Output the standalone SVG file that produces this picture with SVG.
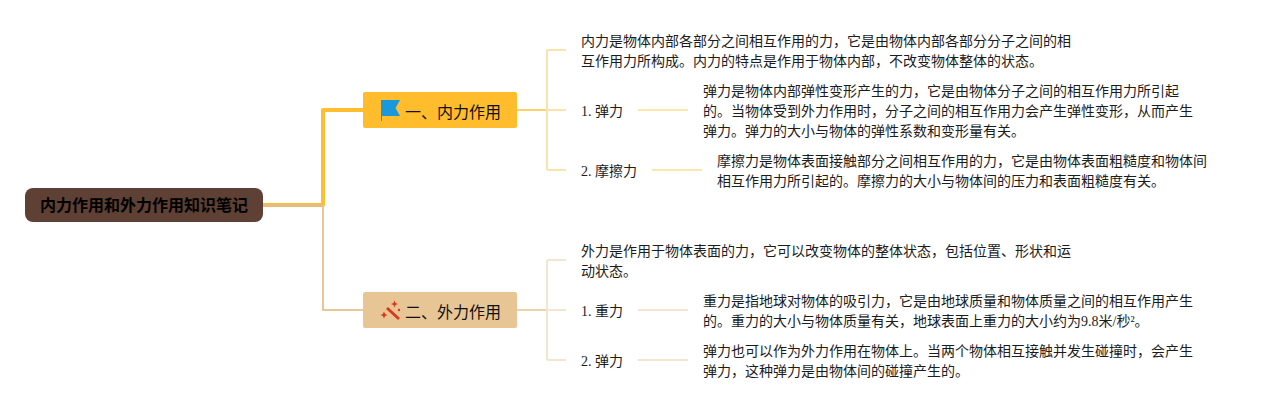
<svg xmlns="http://www.w3.org/2000/svg" width="1277" height="410" viewBox="0 0 1277 410">
<style>
text{font-family:"Liberation Serif","Noto Sans CJK SC",serif;font-size:14px;fill:#1c1c1c}
.b{font-size:16px;fill:#111}
.c{fill:none;stroke-linejoin:round}
.w{fill:#d5371f}
</style>
<rect width="1277" height="410" fill="#fff"/>
<g id="connectors">
<path class="c" d="M263 205H323V110H363" stroke="#ffbe30" stroke-width="4"/>
<path class="c" d="M263 205.500H323V310H363" stroke="#e8c795" stroke-width="2"/>
<path class="c" d="M263 205.500H323" stroke="#e6bd78" stroke-width="3"/>
<path class="c" d="M517 110H547" stroke="#fdd26b" stroke-width="2"/>
<path class="c" d="M547 50V170M547 50H566M547 110H566M547 170H566" stroke="#fbe3ad" stroke-width="2"/>
<path class="c" d="M638 110H688M652 170H702" stroke="#fde6ac" stroke-width="2"/>
<path class="c" d="M517 310H547" stroke="#ecd3ae" stroke-width="2"/>
<path class="c" d="M547 260V360M547 260H566M547 310H566M547 360H566" stroke="#f3e5d0" stroke-width="2"/>
<path class="c" d="M638 310H688M638 360H688" stroke="#f3e5d0" stroke-width="2"/>
</g>
<g id="root"><rect x="25" y="188" width="238" height="34" rx="8" fill="#5f4034"/>
<text x="40" y="211" style="font-size:16px;font-weight:bold;fill:#000">内力作用和外力作用知识笔记</text></g>
<g id="branch1"><rect x="363" y="92" width="154" height="36" rx="2" fill="#ffbd2e"/>
<path d="M381 100H400L395.500 108L400 116H382V121H381Z" fill="#1a98dc"/>
<text class="b" x="405" y="118">一、内力作用</text></g>
<g id="branch2"><rect x="363" y="292" width="154" height="36" rx="2" fill="#e8c595"/>
<path d="M387 308L399 319" stroke="#d5371f" stroke-width="2.800" fill="none"/>
<path class="w" d="M394.500 300.500l1 2.500l2.500 1l-2.500 1l-1 2.500l-1-2.500l-2.500-1l2.500-1ZM384 311.500l1.100 2.400l2.400 1.100l-2.400 1.100l-1.100 2.400l-1.100-2.400l-2.400-1.100l2.400-1.100Z"/><circle class="w" cx="399" cy="310" r="1.200"/>
<text class="b" x="405" y="318">二、外力作用</text></g>
<g id="n1"><text x="581" y="46">内力是物体内部各部分之间相互作用的力，它是由物体内部各部分分子之间的相</text><text x="581" y="66">互作用力所构成。内力的特点是作用于物体内部，不改变物体整体的状态。</text></g>
<g id="n2"><text x="581" y="116">1. 弹力</text></g>
<g id="n3"><text x="703" y="96">弹力是物体内部弹性变形产生的力，它是由物体分子之间的相互作用力所引起</text><text x="703" y="116">的。当物体受到外力作用时，分子之间的相互作用力会产生弹性变形，从而产生</text><text x="703" y="136">弹力。弹力的大小与物体的弹性系数和变形量有关。</text></g>
<g id="n4"><text x="581" y="176">2. 摩擦力</text></g>
<g id="n5"><text x="717" y="166">摩擦力是物体表面接触部分之间相互作用的力，它是由物体表面粗糙度和物体间</text><text x="717" y="186">相互作用力所引起的。摩擦力的大小与物体间的压力和表面粗糙度有关。</text></g>
<g id="n6"><text x="581" y="256">外力是作用于物体表面的力，它可以改变物体的整体状态，包括位置、形状和运</text><text x="581" y="276">动状态。</text></g>
<g id="n7"><text x="581" y="316">1. 重力</text></g>
<g id="n8"><text x="703" y="306">重力是指地球对物体的吸引力，它是由地球质量和物体质量之间的相互作用产生</text><text x="703" y="326">的。重力的大小与物体质量有关，地球表面上重力的大小约为9.8米/秒²。</text></g>
<g id="n9"><text x="581" y="366">2. 弹力</text></g>
<g id="n10"><text x="703" y="356">弹力也可以作为外力作用在物体上。当两个物体相互接触并发生碰撞时，会产生</text><text x="703" y="376">弹力，这种弹力是由物体间的碰撞产生的。</text></g>
</svg>
